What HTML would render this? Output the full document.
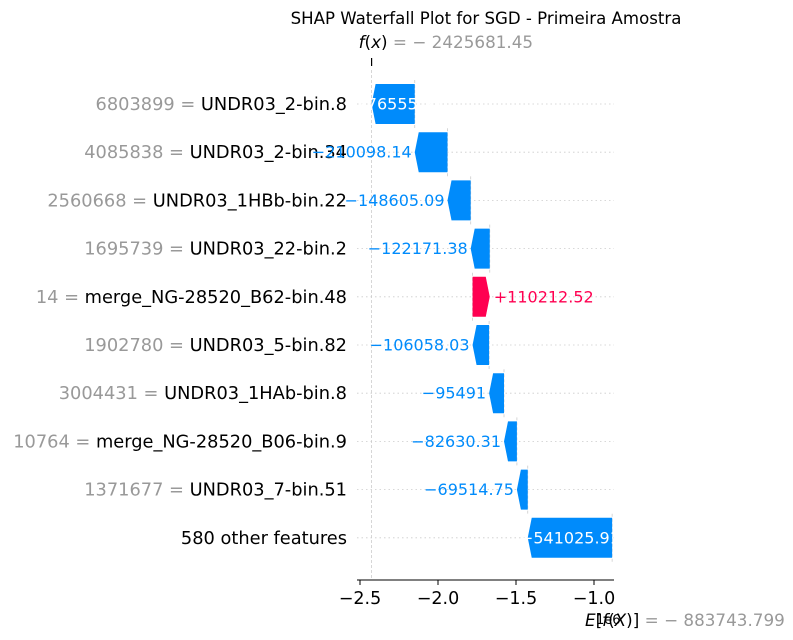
<!DOCTYPE html>
<html><head><meta charset="utf-8"><style>
html,body{margin:0;padding:0;background:#fff;}
svg{display:block;font-family:"DejaVu Sans","Liberation Sans",sans-serif;}
</style></head><body>
<svg id="chart" width="793" height="640" viewBox="0 0 793 640">
<text x="486" y="24" font-size="16.6" text-anchor="middle" fill="#000">SHAP Waterfall Plot for SGD - Primeira Amostra</text>
<g id="grid"></g><g id="bars"></g><g id="labels"></g><g id="axis"></g>
</svg>
<script>
const featureValues = ["6803899","4085838","2560668","1695739","14","1902780","3004431","10764","1371677",""];
const featureNames = ["UNDR03_2-bin.8","UNDR03_2-bin.34","UNDR03_1HBb-bin.22","UNDR03_22-bin.2","merge_NG-28520_B62-bin.48","UNDR03_5-bin.82","UNDR03_1HAb-bin.8","merge_NG-28520_B06-bin.9","UNDR03_7-bin.51","580 other features"];
const shapValues = [-276555.31,-210098.14,-148605.09,-122171.38,110212.52,-106058.03,-95491,-82630.31,-69514.75,-541025.91];
const valueLabels = ["−276555.31","−210098.14","−148605.09","−122171.38","+110212.52","−106058.03","−95491","−82630.31","−69514.75","−541025.91"];
const baseValue = -883743.799;
const fxValue = -2425681.45;
const xTicks = [-2.5,-2.0,-1.5,-1.0];
const xTickLabels = ["−2.5","−2.0","−1.5","−1.0"];

const NS="http://www.w3.org/2000/svg";
const X=v=>360+(v/1e6+2.5)*156;
const Y=i=>104+i*48.2;
const BLUE="#008bfb",RED="#ff0051";
function mk(tag,attrs,parent){const e=document.createElementNS(NS,tag);for(const k in attrs)e.setAttribute(k,attrs[k]);parent.appendChild(e);return e;}
const grid=document.getElementById('grid'),bars=document.getElementById('bars'),labels=document.getElementById('labels'),axis=document.getElementById('axis');
const n=shapValues.length;
const ends=new Array(n),starts=new Array(n);
let cur=baseValue;
for(let i=n-1;i>=0;i--){starts[i]=cur;cur=cur+shapValues[i];ends[i]=cur;}
for(let i=0;i<n;i++){
  const y=Y(i);
  const hl=mk('line',{x1:357,x2:614,y1:y,y2:y,stroke:'#ccc','stroke-width':0.8,'stroke-dasharray':'1.5,3'},grid);
  
  
  const t=mk('text',{x:347,y:y+6,'font-size':17.8,'text-anchor':'end'},labels);
  
  
  if(featureValues[i]){const s1=mk('tspan',{fill:'#999'},t);s1.textContent=featureValues[i]+' = ';}
  const s2=mk('tspan',{fill:'#000'},t);s2.textContent=featureNames[i];
  const bx=X(starts[i]);
  const vl=mk('line',{x1:bx,x2:bx,y1:y-24,y2:y+24,stroke:'#ccc','stroke-width':0.8,'stroke-dasharray':'3,2'},grid);
  
  
}
const fl=mk('line',{x1:X(fxValue),x2:X(fxValue),y1:70,y2:580,stroke:'#ccc','stroke-width':0.8,'stroke-dasharray':'3,2'},grid);


for(let i=0;i<n;i++){
  const y=Y(i),h=20;
  const x0=X(starts[i]),x1=X(ends[i]);
  const pos=shapValues[i]>0;
  const col=pos?RED:BLUE;
  const w=Math.abs(x1-x0),hw=Math.min(4,w);
  let pts;
  if(!pos){pts=[[x0,y-h],[x1+hw,y-h],[x1,y],[x1+hw,y+h],[x0,y+h]];}
  else{pts=[[x0,y-h],[x1-hw,y-h],[x1,y],[x1-hw,y+h],[x0,y+h]];}
  const p=mk('polygon',{points:pts.map(q=>q.join(',')).join(' '),fill:col},bars);
  
  
  const inside=w>40;
  let t;
  if(inside){t=mk('text',{x:(x0+x1)/2,y:y+5.5,'font-size':16,'text-anchor':'middle',fill:'#fff'},labels);}
  else if(pos){t=mk('text',{x:x1+4,y:y+5.5,'font-size':16,'text-anchor':'start',fill:col},labels);}
  else{t=mk('text',{x:x1-3,y:y+5.5,'font-size':16,'text-anchor':'end',fill:col},labels);}
  t.textContent=valueLabels[i];
  
  
}
const al=mk('line',{x1:357,x2:614,y1:580,y2:580,stroke:'#000','stroke-width':1},axis);


xTicks.forEach((v,k)=>{
  const x=X(v*1e6);
  const tk=mk('line',{x1:x,x2:x,y1:580,y2:585,stroke:'#000','stroke-width':1},axis);
  
  
  const tl=mk('text',{x:x,y:604,'font-size':17.5,'text-anchor':'middle',fill:'#000'},axis);
  tl.textContent=xTickLabels[k];
  
  
});
const fx=X(fxValue);
const ft=mk('line',{x1:fx,x2:fx,y1:58,y2:66,stroke:'#000','stroke-width':1.2},axis);


const fxt=mk('text',{x:fx-13,y:48,'font-size':16.8,fill:'#999'},axis);


fxt.innerHTML='<tspan fill="#000" font-style="italic">f</tspan><tspan fill="#000">(</tspan><tspan fill="#000" font-style="italic">x</tspan><tspan fill="#000">)</tspan> = − '+Math.abs(fxValue).toFixed(2);
const ex=mk('text',{x:585,y:626,'font-size':16.8,fill:'#999'},axis);


ex.innerHTML='<tspan fill="#000" font-style="italic">E</tspan><tspan fill="#000">[</tspan><tspan fill="#000" font-style="italic">f</tspan><tspan fill="#000">(</tspan><tspan fill="#000" font-style="italic">X</tspan><tspan fill="#000">)]</tspan> = − '+Math.abs(baseValue).toFixed(3);
const e6=mk('text',{x:596,y:624,'font-size':13,fill:'#000'},axis);
e6.textContent='1e6';


</script>
</body></html>
